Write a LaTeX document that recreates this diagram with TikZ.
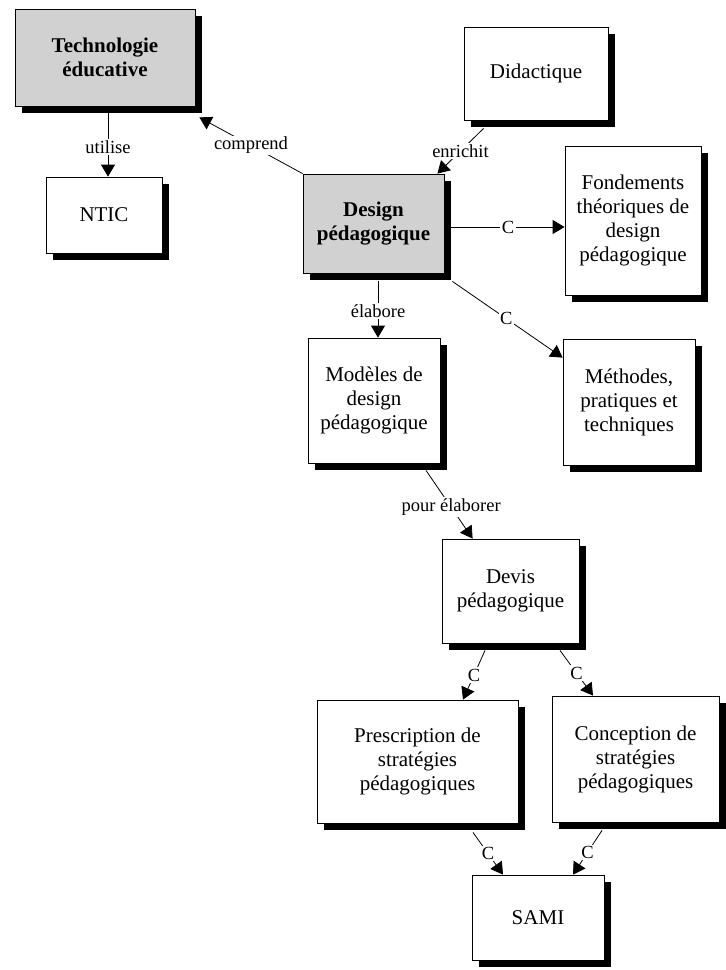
\documentclass[tikz,border=0pt]{standalone}
\usepackage{fontspec}
\setmainfont{Liberation Serif}
\usetikzlibrary{arrows.meta,shadows}
\definecolor{boxgray}{gray}{0.82}
\tikzset{
  box/.style={draw=black, line width=0.8pt, fill=white, align=center,
    font=\fontsize{21}{24}\selectfont, inner sep=2pt,
    drop shadow={shadow xshift=7pt, shadow yshift=-7pt, opacity=1, fill=black}},
  keybox/.style={box, fill=boxgray, font=\fontsize{21}{24}\selectfont\bfseries},
  arr/.style={draw=black, line width=0.8pt, -{Triangle[length=12pt,width=14pt]}},
  lab/.style={fill=white, inner sep=1.5pt, font=\fontsize{18.5}{21}\selectfont}
}
\begin{document}
\begin{tikzpicture}[x=1pt, y=-1pt]
\useasboundingbox (0,0) rectangle (726,970);

% concept boxes
\node[keybox, minimum width=180pt, minimum height=97pt] (tech) at (105,57.5) {Technologie\\éducative};
\node[box, minimum width=116pt, minimum height=76pt] (ntic) at (104,215) {NTIC};
\node[box, minimum width=144pt, minimum height=93pt] (didac) at (536,73.5) {Didactique};
\node[keybox, minimum width=141pt, minimum height=99pt] (design) at (373.5,223.5) {Design\\pédagogique};
\node[box, minimum width=136pt, minimum height=149pt] (fond) at (633,220.5) {Fondements\\théoriques de\\design\\pédagogique};
\node[box, minimum width=132pt, minimum height=125pt] (modeles) at (374,400.5) {Modèles de\\design\\pédagogique};
\node[box, minimum width=132pt, minimum height=126pt] (methodes) at (629,402) {Méthodes,\\pratiques et\\techniques};
\node[box, minimum width=137pt, minimum height=104pt] (devis) at (510.5,591) {Devis\\pédagogique};
\node[box, minimum width=201pt, minimum height=123pt] (prescr) at (417.5,761.5) {Prescription de\\stratégies\\pédagogiques};
\node[box, minimum width=167pt, minimum height=126pt] (concep) at (635.5,759) {Conception de\\stratégies\\pédagogiques};
\node[box, minimum width=132pt, minimum height=85pt] (sami) at (538,917.5) {SAMI};

% labelled links
\draw[arr] ([xshift=3pt]tech.south) -- node[lab, pos=0.58]{utilise} ([xshift=4pt]ntic.north);
\draw[arr] (design.north west) -- node[lab, pos=0.5]{comprend} ([shift={(4,11)}]tech.south east);
\draw[arr] ([shift={(20,8)}]didac.south west) -- node[lab, pos=0.5]{enrichit} ([xshift=-7]design.north east);
\draw[arr] ([shift={(7,3.5)}]design.east) -- node[lab, pos=0.5]{C} ([shift={(0,6.5)}]fond.west);
\draw[arr] ([shift={(8,8)}]design.south east) -- node[lab, pos=0.49]{C} ([shift={(0,19)}]methodes.north west);
\draw[arr] ([shift={(4.5,8)}]design.south) -- node[lab, pos=0.53]{élabore} ([xshift=4]modeles.north);
\draw[arr] ([shift={(52,7)}]modeles.south) -- node[lab, pos=0.54]{pour élaborer} ([xshift=31]devis.north west);
\draw[arr] ([shift={(-25.5,7)}]devis.south) -- node[lab, pos=0.5]{C} ([xshift=45.5]prescr.north);
\draw[arr] ([shift={(49.5,7)}]devis.south) -- node[lab, pos=0.5]{C} ([xshift=-42.5]concep.north);
\draw[arr] ([shift={(55.5,9)}]prescr.south) -- node[lab, pos=0.5]{C} ([xshift=-35]sami.north);
\draw[arr] ([shift={(-33.5,8)}]concep.south) -- node[lab, pos=0.5]{C} ([xshift=35]sami.north);
\end{tikzpicture}
\end{document}
